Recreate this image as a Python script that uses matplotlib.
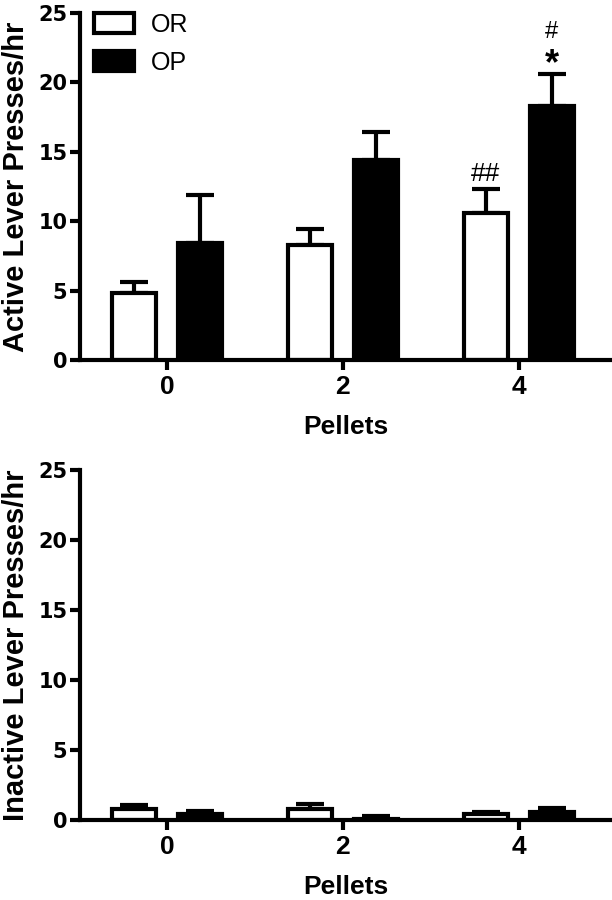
"""Active / inactive lever presses per hour for OR and OP rats across pellet doses."""

import matplotlib
matplotlib.use("Agg")
import matplotlib.pyplot as plt
import numpy as np

plt.rcParams["font.family"] = ["Liberation Sans", "DejaVu Sans"]

pellets = ["0", "2", "4"]
groups = ["OR", "OP"]

active_or = [4.85, 8.3, 10.6]
active_or_sem = [0.75, 1.15, 1.75]
active_op = [8.4, 14.4, 18.3]
active_op_sem = [3.5, 2.0, 2.3]

inactive_or = [0.75, 0.76, 0.40]
inactive_or_sem = [0.32, 0.38, 0.15]
inactive_op = [0.42, 0.08, 0.55]
inactive_op_sem = [0.21, 0.18, 0.33]

# significance marks: (group index, pellet index, text, y)
marks = [(0, 2, "##", 13.4), (1, 2, "*", 21.3), (1, 2, "#", 23.6)]

LW = 3
W = 0.25
OFF = 0.1875


def panel(ax, or_vals, or_err, op_vals, op_err, ylabel):
    x = np.arange(len(pellets))
    for vals, err, dx, fc, lab in [(or_vals, or_err, -OFF, "white", groups[0]),
                                   (op_vals, op_err, OFF, "black", groups[1])]:
        ax.errorbar(x + dx, vals, yerr=[np.zeros(len(vals)), err], fmt="none",
                    ecolor="black", elinewidth=LW, capsize=10, capthick=LW, zorder=2)
        ax.bar(x + dx, vals, W, facecolor=fc, edgecolor="black", linewidth=LW,
               label=lab, zorder=3)
    ax.set_xlim(-0.494, 2.529)
    ax.set_ylim(0, 25)
    ax.set_yticks([0, 5, 10, 15, 20, 25])
    ax.set_xticks(x)
    ax.set_xticklabels(pellets)
    for s in ["top", "right"]:
        ax.spines[s].set_visible(False)
    for s in ["left", "bottom"]:
        ax.spines[s].set_linewidth(LW)
        ax.spines[s].set_zorder(5)
    ax.tick_params(width=LW, length=7)
    ax.tick_params(axis="x", pad=4, labelsize=19)
    ax.tick_params(axis="y", pad=2, labelsize=15)
    for t in ax.get_xticklabels():
        t.set_fontweight("bold")
    for t in ax.get_yticklabels():
        t.set_fontweight("bold")
        t.set_fontfamily("DejaVu Sans")
    ax.set_xlabel("Pellets", fontsize=19, fontweight="bold", labelpad=11)
    ax.set_ylabel(ylabel, fontsize=21, fontweight="bold", labelpad=6)


fig = plt.figure(figsize=(6.12, 9.0), dpi=100)
ax1 = fig.add_axes([0.1307, 0.6, 0.8693, 0.3856])
ax2 = fig.add_axes([0.1307, 0.0889, 0.8693, 0.3889])

panel(ax1, active_or, active_or_sem, active_op, active_op_sem, "Active Lever Presses/hr")
panel(ax2, inactive_or, inactive_or_sem, inactive_op, inactive_op_sem,
      "Inactive Lever Presses/hr")

for g, p, txt, y in marks:
    xpos = p + (OFF if g else -OFF)
    if txt == "*":
        ax1.text(xpos, y, txt, ha="center", va="center", fontsize=26, fontweight="bold")
    elif txt == "#":
        ax1.text(xpos, y, txt, ha="center", va="center", fontsize=17)
    else:
        ax1.text(xpos, y, txt, ha="center", va="center", fontsize=19)

ax1.legend(loc="upper left", bbox_to_anchor=(0.026, 1.0), frameon=False,
           fontsize=18, handlelength=1.6, handleheight=0.85, handletextpad=0.7,
           labelspacing=0.55, borderpad=0, borderaxespad=0)

fig.savefig("out.png", dpi=100)
